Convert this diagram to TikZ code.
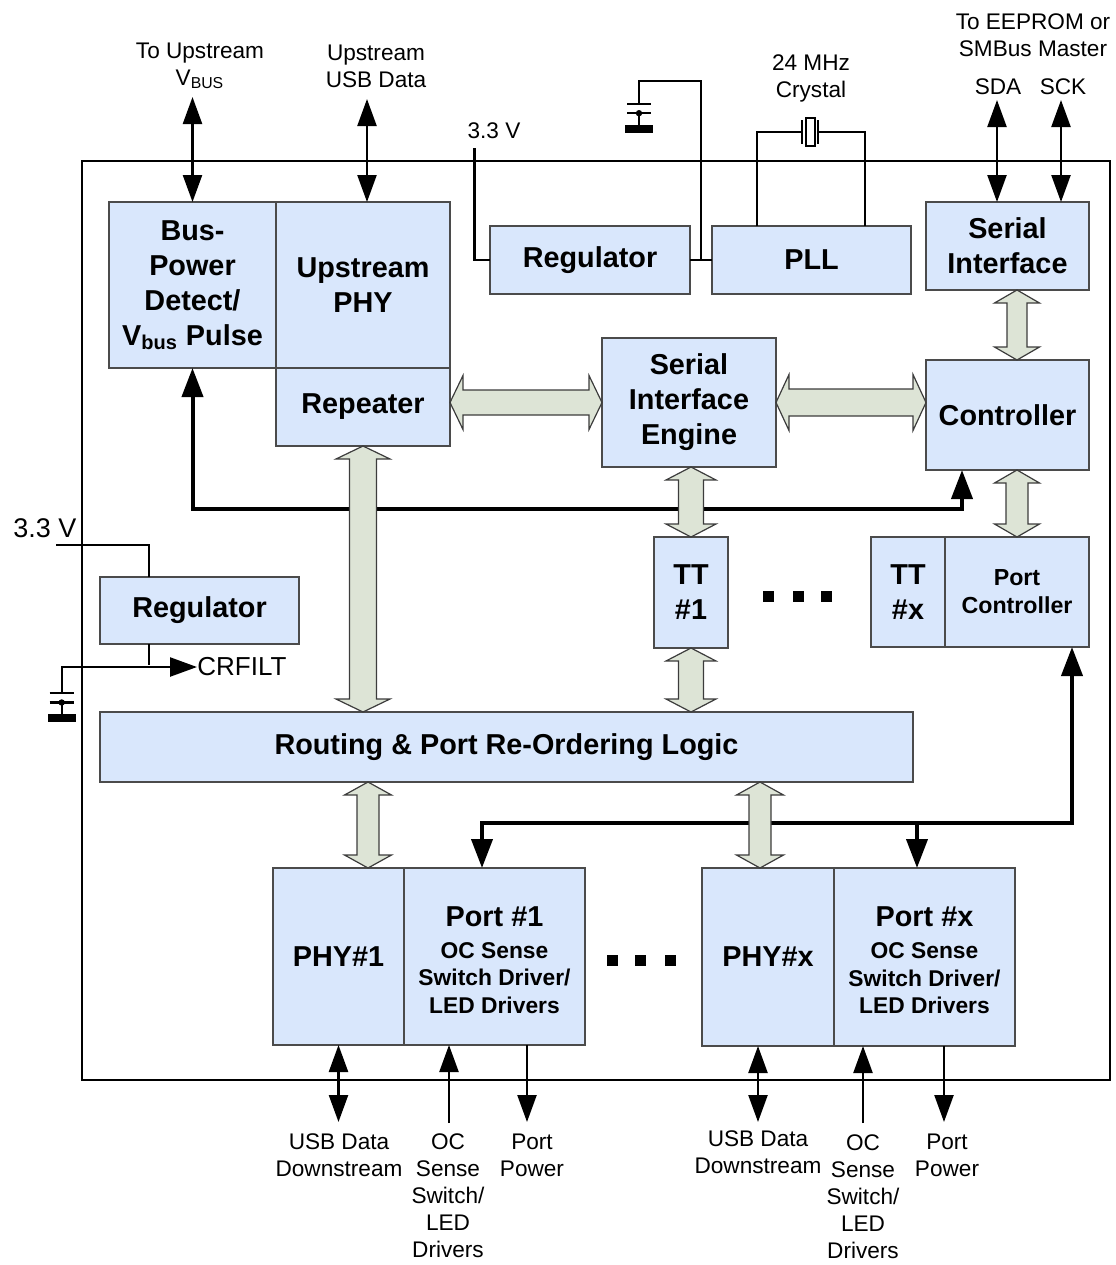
\documentclass[tikz,border=0pt]{standalone}
\usepackage{fontspec}
\setmainfont{Liberation Sans}
\usetikzlibrary{arrows.meta,positioning,calc}

\definecolor{blkfill}{RGB}{217,231,252}
\definecolor{blkline}{RGB}{75,75,75}
\definecolor{fatfill}{RGB}{221,228,214}
\definecolor{fatline}{RGB}{60,60,60}

\newcommand{\smallbold}{\fontsize{11.4}{13.8}\selectfont}

% fat double arrows: half head, half shaft, first point, second point
\newcommand{\fatv}[4]{%
  \path[fat] let \p1=(#3), \p2=(#4) in
    (\x1,\y1) -- (\x1+#1,\y1-6.5pt) -- (\x1+#2,\y1-6.5pt) -- (\x1+#2,\y2+6.5pt)
    -- (\x1+#1,\y2+6.5pt) -- (\x1,\y2) -- (\x1-#1,\y2+6.5pt) -- (\x1-#2,\y2+6.5pt)
    -- (\x1-#2,\y1-6.5pt) -- (\x1-#1,\y1-6.5pt) -- cycle;}
\newcommand{\fath}[4]{%
  \path[fat] let \p1=(#3), \p2=(#4) in
    (\x1,\y1) -- (\x1+6.5pt,\y1+#1) -- (\x1+6.5pt,\y1+#2) -- (\x2-6.5pt,\y1+#2)
    -- (\x2-6.5pt,\y1+#1) -- (\x2,\y1) -- (\x2-6.5pt,\y1-#1) -- (\x2-6.5pt,\y1-#2)
    -- (\x1+6.5pt,\y1-#2) -- (\x1+6.5pt,\y1-#1) -- cycle;}

\tikzset{
  block/.style={draw=blkline, fill=blkfill, line width=0.7pt, inner sep=0pt, outer sep=0pt,
    align=center, font=\bfseries\fontsize{14.4}{17.5}\selectfont},
  wh/.style 2 args={minimum width=#1*0.5pt, minimum height=#2*0.5pt},
  lbl/.style={inner sep=0pt, align=center, font=\fontsize{11.3}{13.5}\selectfont},
  sig/.style={line width=1.2pt, >={Triangle[length=13.5pt,width=9.5pt]}},
  bus/.style={line width=2pt, >={Triangle[length=14.5pt,width=10.5pt]}},
  fat/.style={draw=fatline, fill=fatfill, line width=0.6pt},
  capgnd/.pic={
    \draw[line width=1.2pt] (-12,0) -- (12,0);
    \draw[line width=1.2pt] (-12,9.5) -- (12,9.5);
    \draw[line width=1.2pt] (0,9.5) -- (0,22);
    \fill (0,9.5) circle (1.6pt);
    \fill (-14,21) rectangle (14,29);
  }
}

\begin{document}
\begin{tikzpicture}[x=0.5pt,y=-0.5pt]
\useasboundingbox (0,0) rectangle (1115,1265);
\draw[line width=1.3pt] (82,161) rectangle (1110,1080);

% blocks
\node[block, wh={167}{166}] (buspwr) at (192.5,285) {Bus-\\Power\\Detect/\\V\textsubscript{bus} Pulse};
\node[block, wh={174}{166}, right=0pt of buspwr] (upphy) {Upstream\\PHY};
\node[block, wh={174}{78}, below=0pt of upphy] (rep) {Repeater};
\node[block, wh={200}{68}] (reg1) at (590,260) {Regulator};
\node[block, wh={199}{68}, right=11pt of reg1] (pll) {PLL};
\node[block, wh={163}{88}] (serif) at (1007.5,246) {Serial\\Interface};
\node[block, wh={174}{129}] (sie) at (689,402.5) {Serial\\Interface\\Engine};
\node[block, wh={163}{110}] (ctrl) at (1007.5,415) {Controller};
\node[block, wh={74}{111}] (tt1) at (691,592.5) {TT\\\#1};
\node[block, wh={74}{110}] (ttx) at (908,592) {TT\\\#x};
\node[block, wh={144}{110}, right=0pt of ttx, font=\bfseries\fontsize{11.6}{14}\selectfont] (portctl) {Port\\Controller};
\node[block, wh={199}{67}] (reg2) at (199.5,610.5) {Regulator};
\node[block, wh={813}{70}] (route) at (506.5,747) {Routing \& Port Re-Ordering Logic};
\node[block, wh={131}{177}] (phy1) at (338.5,956.5) {PHY\#1};
\node[block, wh={181}{177}, right=0pt of phy1] (port1) {\rule{0pt}{13.4pt}Port \#1\\[-1.5pt]\smallbold OC Sense\\[-3.75pt]\smallbold Switch Driver/\\[-3.75pt]\smallbold LED Drivers};
\node[block, wh={132}{178}] (phyx) at (768,957) {PHY\#x};
\node[block, wh={181}{178}, right=0pt of phyx] (portx) {\rule{0pt}{13.4pt}Port \#x\\[-1.5pt]\smallbold OC Sense\\[-3.75pt]\smallbold Switch Driver/\\[-3.75pt]\smallbold LED Drivers};

% labels
\node[lbl] (tovbus) at (200,66) {To Upstream\\V\textsubscript{BUS}};
\node[lbl] (usbup) at (376,66) {Upstream\\USB Data};
\node[lbl] (v33a) at (494,131) {3.3 V};
\node[lbl] (xtal) at (811,78) {24 MHz\\Crystal};
\node[lbl] (eeprom) at (1033,35) {To EEPROM or\\SMBus Master};
\node[lbl] (sda) at (998,87) {SDA};
\node[lbl] (sck) at (1063,87) {SCK};
\node[lbl, font=\fontsize{13.5}{16}\selectfont] (v33b) at (45,528) {3.3 V};
\node[lbl, font=\fontsize{13}{16}\selectfont, anchor=west] (crfilt) at (197,667) {CRFILT};
\node[lbl] (usb1) at (339,1155) {USB Data\\Downstream};
\node[lbl] (oc1) at (448,1196) {OC\\Sense\\Switch/\\LED\\Drivers};
\node[lbl] (pp1) at (532,1155) {Port\\Power};
\node[lbl] (usbx) at (758,1152) {USB Data\\Downstream};
\node[lbl] (ocx) at (863,1197) {OC\\Sense\\Switch/\\LED\\Drivers};
\node[lbl] (ppx) at (947,1155) {Port\\Power};

% free ends
\coordinate (vbus) at (192.5,97);
\coordinate (dup) at (367,99);
\coordinate (sdae) at (997,100);
\coordinate (scke) at (1061,100);
\coordinate (v33ae) at (474.5,148);
\coordinate (tap) at (701,260);
\coordinate (capa) at (639,103.7);
\coordinate (xl) at (757,132);
\coordinate (xr) at (865,132);
\coordinate (v33be) at (56,545);
\coordinate (rg) at (149,665);
\coordinate (capb) at (61.7,693);
\coordinate (busL) at (192.5,509);
\coordinate (busR) at (962,509);
\coordinate (lbL) at (482,823);
\coordinate (lbR) at (1072,823);
\coordinate (lbM) at (917,823);
\coordinate (r1) at (368,800);
\coordinate (rx) at (760,800);
\coordinate (d1) at (338.5,1122);
\coordinate (o1) at (449,1123);
\coordinate (p1) at (527,1122);
\coordinate (dx) at (758,1122);
\coordinate (ox) at (863,1123);
\coordinate (px) at (944,1122);

% signals
\draw[sig,<->] (vbus) -- (buspwr.north);
\draw[sig,<->] (dup) -- (dup |- upphy.north);
\draw[sig,<->] (sdae) -- (sdae |- serif.north);
\draw[sig,<->] (scke) -- (scke |- serif.north);
\draw[sig] (v33ae) |- (reg1.west);
\draw[sig] (reg1.east) -- (pll.west);
\draw[sig] (tap) -- (701,81) -- (639,81) -- (capa);
\pic at (capa) {capgnd};
\draw[sig] (xl |- pll.north) -- (xl) -- (802,132);
\draw[sig] (818,132) -- (xr) -- (xr |- pll.north);
\draw[line width=1.3pt] (802,120) -- (802,144);
\draw[line width=1.3pt] (818,120) -- (818,144);
\draw[line width=0.8pt, fill=white] (806,118) rectangle (815,146);

\draw[sig] (v33be) -| (rg |- reg2.north);
\draw[sig] (rg |- reg2.south) -- (rg);
\draw[sig,->] (capb) |- (crfilt.west);
\pic at (capb) {capgnd};

\draw[bus,<->] (buspwr.south) -- (busL) -- (busR) -- (busR |- ctrl.south);
\draw[bus,<->] (lbL |- port1.north) -- (lbL) -- (lbR) -- (lbR |- portctl.south);
\draw[bus,->] (lbM) -- (lbM |- portx.north);

\draw[sig,<->] (phy1.south) -- (d1);
\draw[sig,->] (o1) -- (o1 |- port1.south);
\draw[sig,->] (p1 |- port1.south) -- (p1);
\draw[sig,<->] (dx |- phyx.south) -- (dx);
\draw[sig,->] (ox) -- (ox |- portx.south);
\draw[sig,->] (px |- portx.south) -- (px);

% fat arrows
\fath{13.5pt}{6.25pt}{rep.east |- sie.west}{sie.west}
\fath{14pt}{6.75pt}{sie.east}{sie.east -| ctrl.west}
\fatv{13.5pt}{6.75pt}{rep.south}{rep.south |- route.north}
\fatv{12.5pt}{6.25pt}{tt1.north |- sie.south}{tt1.north}
\fatv{12.5pt}{6.25pt}{tt1.south}{tt1.south |- route.north}
\fatv{11.25pt}{5pt}{portctl.north |- serif.south}{portctl.north |- ctrl.north}
\fatv{11.25pt}{5.5pt}{portctl.north |- ctrl.south}{portctl.north}
\fatv{11.75pt}{5.5pt}{r1 |- route.south}{r1 |- phy1.north}
\fatv{11.75pt}{5.5pt}{rx |- route.south}{rx |- phyx.north}

% dots
\fill (763,591) rectangle (774,602);
\fill (793,591) rectangle (804,602);
\fill (821,591) rectangle (832,602);
\fill (607,955) rectangle (618,966);
\fill (635,955) rectangle (646,966);
\fill (665,955) rectangle (676,966);
\end{tikzpicture}
\end{document}
